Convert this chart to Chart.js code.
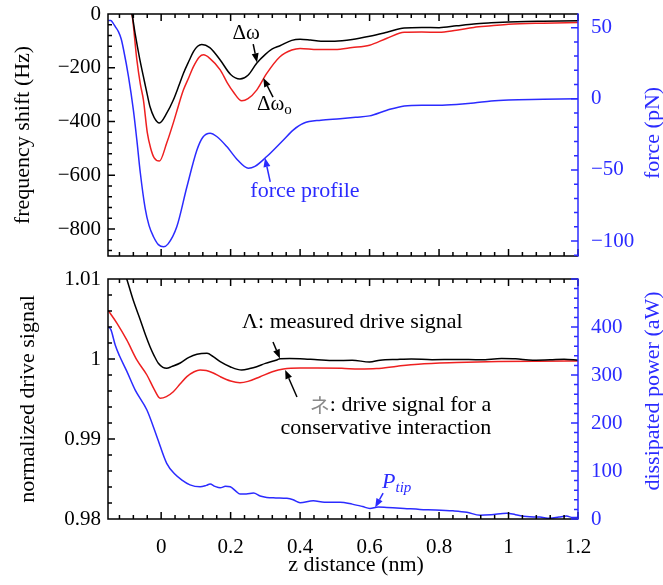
<!DOCTYPE html>
<html>
<head>
<meta charset="utf-8">
<script src="https://cdn.jsdelivr.net/npm/chart.js@4.4.0/dist/chart.umd.min.js"></script>
<style>
  html, body { margin: 0; padding: 0; background: #fff; }
  #wrap { position: relative; width: 663px; height: 585px; }
  canvas { position: absolute; left: 0; }
  #top { top: 0; }
  #bottom { top: 262px; }
</style>
</head>
<body>
<div id="wrap">
  <canvas id="top" width="663" height="262"></canvas>
  <canvas id="bottom" width="663" height="323"></canvas>
</div>
<script>
// ---- top panel: frequency shift (Hz) and force (pN) vs z (nm)
const zShiftMeasured = [-0.095, -0.084, -0.075, -0.062, -0.051, -0.04, -0.032, -0.02, -0.005, 0.016, 0.035, 0.05, 0.064, 0.08, 0.093, 0.105, 0.117, 0.14, 0.17, 0.2, 0.227, 0.25, 0.275, 0.3, 0.32, 0.342, 0.376, 0.4, 0.43, 0.46, 0.5, 0.55, 0.6, 0.65, 0.7, 0.75, 0.8, 0.85, 0.9, 0.95, 1.0, 1.05, 1.1, 1.15, 1.2];
const shiftMeasured = [40, 0, -72, -165, -233, -300, -345, -385, -405, -369, -320, -270, -221, -175, -140, -120, -113, -125, -171, -225, -242, -228, -183, -150, -130, -118, -98, -94, -97, -101, -101, -95, -83, -68, -52, -50, -51, -44, -37, -33, -30, -28, -27, -26, -25];

const zShiftCons = [-0.095, -0.084, -0.07, -0.06, -0.051, -0.04, -0.03, -0.02, -0.005, 0.016, 0.035, 0.05, 0.064, 0.08, 0.093, 0.11, 0.122, 0.14, 0.17, 0.19, 0.208, 0.232, 0.25, 0.275, 0.304, 0.342, 0.376, 0.4, 0.45, 0.5, 0.55, 0.6, 0.65, 0.7, 0.75, 0.8, 0.85, 0.9, 0.95, 1.0, 1.1, 1.2];
const shiftCons = [45, 0, -170, -260, -320, -440, -500, -535, -547, -480, -405, -340, -283, -235, -196, -160, -152, -165, -208, -255, -290, -323, -315, -283, -221, -159, -134, -128, -132, -132, -125, -116, -90, -68, -67, -68, -60, -50, -44, -38, -34, -32];

const zForce = [-0.152, -0.145, -0.138, -0.132, -0.123, -0.115, -0.108, -0.094, -0.08, -0.07, -0.06, -0.046, -0.035, -0.022, -0.008, 0.007, 0.02, 0.045, 0.074, 0.103, 0.12, 0.141, 0.16, 0.189, 0.22, 0.251, 0.27, 0.304, 0.352, 0.38, 0.41, 0.46, 0.515, 0.56, 0.6, 0.65, 0.7, 0.75, 0.8, 0.85, 0.9, 0.95, 1.0, 1.1, 1.2];
const forceProfile = [55, 55, 53, 50.7, 47.2, 42, 34.3, 15.6, -7.8, -28.9, -52, -77, -89, -97, -102.5, -104, -102, -90, -62, -36, -27, -24.2, -26.5, -33.6, -43, -48.8, -47.5, -40.6, -28.9, -22, -17.2, -15, -14, -13, -12, -8, -5, -4.5, -4.5, -4, -3, -1.5, -0.8, -0.4, 0];

// ---- bottom panel: normalized drive signal and dissipated power (aW) vs z (nm)
const zDriveMeasured = [-0.11, -0.099, -0.08, -0.06, -0.045, -0.032, -0.02, -0.008, 0.005, 0.016, 0.03, 0.055, 0.08, 0.103, 0.132, 0.15, 0.17, 0.2, 0.232, 0.255, 0.275, 0.3, 0.333, 0.342, 0.37, 0.4, 0.45, 0.5, 0.55, 0.6, 0.63, 0.68, 0.72, 0.78, 0.85, 0.92, 0.98, 1.02, 1.07, 1.12, 1.16, 1.2];
const driveMeasured = [1.0115, 1.01, 1.0073, 1.00488, 1.003, 1.00154, 1.0004, 0.99946, 0.99895, 0.99884, 0.99905, 0.9995, 1.0002, 1.00059, 1.00071, 1.0003, 0.99966, 0.999, 0.99862, 0.9988, 0.99904, 0.99945, 0.99988, 1.00004, 1.00005, 1.00004, 0.9999, 0.9998, 0.99985, 0.99962, 0.99985, 0.99995, 1.0, 0.99992, 0.99995, 0.9999, 1.00005, 1.00002, 0.99985, 0.9999, 0.99998, 0.99985];

const zDriveCons = [-0.153, -0.127, -0.099, -0.07, -0.041, -0.02, -0.003, 0.015, 0.035, 0.055, 0.074, 0.095, 0.112, 0.13, 0.15, 0.17, 0.2, 0.227, 0.25, 0.285, 0.32, 0.352, 0.4, 0.45, 0.52, 0.57, 0.62, 0.68, 0.74, 0.85, 0.97, 1.08, 1.2];
const driveCons = [1.0061, 1.00446, 1.00238, 0.99988, 0.998, 0.9962, 0.9951, 0.9953, 0.99591, 0.9969, 0.99779, 0.9984, 0.99862, 0.99855, 0.99825, 0.99779, 0.99725, 0.99704, 0.9972, 0.99779, 0.9984, 0.99875, 0.99888, 0.99888, 0.99884, 0.99874, 0.9988, 0.9991, 0.99935, 0.99955, 0.99968, 0.99973, 0.99975];

const zPower = [-0.152, -0.145, -0.132, -0.12, -0.099, -0.075, -0.041, -0.012, 0.016, 0.04, 0.06, 0.083, 0.112, 0.13, 0.141, 0.155, 0.17, 0.185, 0.199, 0.215, 0.227, 0.245, 0.266, 0.285, 0.304, 0.33, 0.362, 0.38, 0.4, 0.438, 0.47, 0.515, 0.55, 0.58, 0.601, 0.625, 0.65, 0.7, 0.745, 0.79, 0.84, 0.88, 0.918, 0.95, 0.995, 1.02, 1.052, 1.09, 1.119, 1.145, 1.167, 1.185, 1.2];
const powerTip = [400, 395, 362, 340, 308, 269, 227, 171, 116, 93, 81, 71, 67, 70, 73, 68, 65, 68, 67, 58, 52, 52, 54, 48, 45, 44, 43, 40, 34, 38, 35, 35, 31, 26, 22, 25, 24, 22, 20, 19, 17, 14, 8, 9, 12, 9, 5, 4, 1.5, 4, 6, 3, 3.5];

// ---- tick labels
const zTicks = [0, 0.2, 0.4, 0.6, 0.8, 1, 1.2];
const shiftTicks = [-800, -600, -400, -200, 0];
const forceTicks = [-100, -50, 0, 50];
const driveTicks = [0.98, 0.99, 1, 1.01];
const powerTicks = [0, 100, 200, 300, 400];

const BLUE = '#2b2bff';
const RED = '#ee2020';
const SERIF = '"Liberation Serif", "Times New Roman", serif';
Chart.defaults.font.family = SERIF;

const pts = (xs, ys) => xs.map((x, i) => ({ x: x, y: ys[i] }));
const fmt = v => String(+v.toFixed(4)).replace('-', '\u2212');
const setTicks = list => scale => { scale.ticks = list.map(v => ({ value: v })); };
const noPad = s => { s.paddingTop = 0; s.paddingBottom = 0; s.paddingLeft = 0; s.paddingRight = 0; };

function line(data, color, axis) {
    return {
        data: data,
        yAxisID: axis,
        borderColor: color,
        borderWidth: 1.5,
        pointRadius: 0,
        fill: false,
        cubicInterpolationMode: 'monotone'
    };
}

// frame with inward major/minor ticks on all four sides
const framePlugin = {
    id: 'frame',
    afterDatasetsDraw(chart, args, o) {
        const { ctx, chartArea: a } = chart;
        const sx = chart.scales.x, sy = chart.scales.y, sy2 = chart.scales.y2;
        const each = (scale, minor, major, fn) => {
            const start = Math.ceil(scale.min / minor - 1e-6);
            for (let i = start; i * minor <= scale.max + 1e-9; i++) {
                const v = i * minor;
                const isMajor = Math.abs(v / major - Math.round(v / major)) < 1e-6;
                fn(scale.getPixelForValue(v), isMajor ? 7 : 4);
            }
        };
        ctx.save();
        ctx.lineWidth = 1.5;
        ctx.strokeStyle = '#000';
        ctx.beginPath();
        each(sx, o.xMinor, o.xMajor, (p, len) => {
            ctx.moveTo(p, a.bottom); ctx.lineTo(p, a.bottom - len);
            ctx.moveTo(p, a.top); ctx.lineTo(p, a.top + len);
        });
        each(sy, o.yMinor, o.yMajor, (p, len) => {
            ctx.moveTo(a.left, p); ctx.lineTo(a.left + len, p);
        });
        ctx.moveTo(a.right, a.top); ctx.lineTo(a.left, a.top);
        ctx.lineTo(a.left, a.bottom); ctx.lineTo(a.right, a.bottom);
        ctx.stroke();
        ctx.strokeStyle = BLUE;
        ctx.beginPath();
        ctx.moveTo(a.right, a.top - 0.75); ctx.lineTo(a.right, a.bottom + 0.75);
        each(sy2, o.y2Minor, o.y2Major, (p, len) => {
            ctx.moveTo(a.right, p); ctx.lineTo(a.right - len, p);
        });
        ctx.stroke();
        ctx.restore();
    }
};

// annotation texts and arrows placed in data units
const notesPlugin = {
    id: 'notes',
    afterDraw(chart, args, o) {
        const { ctx, chartArea: a } = chart;
        const px = (axis, x, y) => [chart.scales.x.getPixelForValue(x), chart.scales[axis].getPixelForValue(y)];
        ctx.save();
        (o.arrows || []).forEach(ar => {
            const [x1, y1] = px(ar.axis, ar.from[0], ar.from[1]);
            const [x2, y2] = px(ar.axis, ar.to[0], ar.to[1]);
            const ang = Math.atan2(y2 - y1, x2 - x1);
            const L = 9, W = 3.5;
            const bx = x2 - L * Math.cos(ang), by = y2 - L * Math.sin(ang);
            ctx.strokeStyle = ar.color; ctx.fillStyle = ar.color; ctx.lineWidth = 1.5;
            ctx.beginPath(); ctx.moveTo(x1, y1); ctx.lineTo(bx, by); ctx.stroke();
            ctx.beginPath();
            ctx.moveTo(x2, y2);
            ctx.lineTo(bx + W * Math.sin(ang), by - W * Math.cos(ang));
            ctx.lineTo(bx - W * Math.sin(ang), by + W * Math.cos(ang));
            ctx.closePath(); ctx.fill();
        });
        (o.texts || []).forEach(t => {
            let [x, y] = px(t.axis, t.at[0], t.at[1]);
            ctx.textBaseline = 'middle';
            ctx.textAlign = 'left';
            const parts = t.parts;
            let total = 0;
            parts.forEach(p => { ctx.font = p.font; total += ctx.measureText(p.text).width; });
            if (t.align === 'right') x -= total;
            if (t.align === 'center') x -= total / 2;
            parts.forEach(p => {
                ctx.font = p.font;
                ctx.fillStyle = p.color;
                ctx.fillText(p.text, x, y + (p.dy || 0));
                x += ctx.measureText(p.text).width;
            });
        });
        ctx.font = '22px ' + SERIF;
        ctx.textAlign = 'center';
        ctx.textBaseline = 'middle';
        if (o.xTitle) {
            ctx.fillStyle = '#000';
            ctx.fillText(o.xTitle.text, chart.scales.x.getPixelForValue(o.xTitle.at), a.bottom + o.xTitle.dy);
        }
        if (o.rightTitle) {
            // right-hand title reads bottom to top, like the left one
            ctx.fillStyle = BLUE;
            ctx.translate(chart.width - o.rightTitle.dx, (a.top + a.bottom) / 2 + o.rightTitle.dy);
            ctx.rotate(-Math.PI / 2);
            ctx.fillText(o.rightTitle.text, 0, 0);
        }
        ctx.restore();
    }
};

const F22 = '22px ' + SERIF;
const F21 = '21px ' + SERIF;

function yAxis(pos, min, max, list, color, title, titlePad, width) {
    return {
        type: 'linear',
        position: pos,
        min: min,
        max: max,
        afterBuildTicks: setTicks(list),
        afterFit: s => { s.width = width; noPad(s); },
        grid: { display: false, drawTicks: false },
        border: { display: false },
        ticks: { color: color, font: { size: 21 }, padding: pos === 'left' ? 7 : 13, callback: fmt },
        title: { display: pos === 'left', text: title, color: color, font: { size: 22 }, padding: { top: titlePad, bottom: 0 } }
    };
}

new Chart(document.getElementById('top'), {
    type: 'line',
    data: {
        datasets: [
            line(pts(zShiftMeasured, shiftMeasured), '#000', 'y'),
            line(pts(zShiftCons, shiftCons), RED, 'y'),
            line(pts(zForce, forceProfile), BLUE, 'y2')
        ]
    },
    options: {
        responsive: false,
        animation: false,
        devicePixelRatio: 1,
        layout: { padding: { top: 14, bottom: 6, left: 0, right: 0 } },
        plugins: {
            legend: { display: false },
            tooltip: { enabled: false },
            frame: { xMinor: 0.04, xMajor: 0.2, yMinor: 40, yMajor: 200, y2Minor: 10, y2Major: 50 },
            notes: {
                texts: [
                    { axis: 'y', at: [0.245, -74], align: 'center', parts: [{ text: '\u0394\u03c9', font: F21, color: '#000' }] },
                    { axis: 'y', at: [0.276, -335], align: 'left', parts: [
                        { text: '\u0394\u03c9', font: F21, color: '#000' },
                        { text: 'o', font: '15px ' + SERIF, color: '#000', dy: 6 }
                    ] },
                    { axis: 'y2', at: [0.414, -64.7], align: 'center', parts: [{ text: 'force profile', font: F22, color: BLUE }] }
                ],
                arrows: [
                    { axis: 'y', from: [0.265, -112], to: [0.276, -180], color: '#000' },
                    { axis: 'y', from: [0.322, -309], to: [0.294, -238], color: '#000' },
                    { axis: 'y2', from: [0.314, -58.4], to: [0.299, -41.6], color: BLUE }
                ],
                rightTitle: { text: 'force (pN)', dx: 10, dy: -2 }
            }
        },
        scales: {
            x: { type: 'linear', display: false, min: -0.153, max: 1.2 },
            y: yAxis('left', -900, 0, shiftTicks, '#000', 'frequency shift (Hz)', 10, 108),
            y2: yAxis('right', -110.5, 59.6, forceTicks, BLUE, 'force (pN)', 0, 85)
        }
    },
    plugins: [framePlugin, notesPlugin]
});

new Chart(document.getElementById('bottom'), {
    type: 'line',
    data: {
        datasets: [
            line(pts(zDriveMeasured, driveMeasured), '#000', 'y'),
            line(pts(zDriveCons, driveCons), RED, 'y'),
            line(pts(zPower, powerTip), BLUE, 'y2')
        ]
    },
    options: {
        responsive: false,
        animation: false,
        devicePixelRatio: 1,
        layout: { padding: { top: 17, bottom: 0, left: 0, right: 0 } },
        plugins: {
            legend: { display: false },
            tooltip: { enabled: false },
            frame: { xMinor: 0.04, xMajor: 0.2, yMinor: 0.002, yMajor: 0.01, y2Minor: 20, y2Major: 100 },
            notes: {
                texts: [
                    { axis: 'y', at: [0.233, 1.004625], align: 'left', parts: [{ text: '\u039b: measured drive signal', font: F22, color: '#000' }] },
                    { axis: 'y', at: [0.95, 0.99425], align: 'right', parts: [
                        { text: '\u30cd', font: '20px "Noto Sans CJK JP", sans-serif', color: '#8a8a8a' },
                        { text: ': drive signal for a', font: F22, color: '#000' }
                    ] },
                    { axis: 'y', at: [0.95, 0.991375], align: 'right', parts: [{ text: 'conservative interaction', font: F22, color: '#000' }] },
                    { axis: 'y2', at: [0.636, 77], align: 'left', parts: [
                        { text: 'P', font: 'italic 22px ' + SERIF, color: BLUE },
                        { text: 'tip', font: 'italic 15px ' + SERIF, color: BLUE, dy: 6 }
                    ] }
                ],
                arrows: [
                    { axis: 'y', from: [0.322, 1.002125], to: [0.342, 1.00006], color: '#000' },
                    { axis: 'y', from: [0.391, 0.99525], to: [0.357, 0.99863], color: '#000' },
                    { axis: 'y2', from: [0.639, 54], to: [0.616, 24], color: BLUE }
                ],
                xTitle: { text: 'z distance (nm)', at: 0.561, dy: 46 },
                rightTitle: { text: 'dissipated power (aW)', dx: 10, dy: -8 }
            }
        },
        scales: {
            x: {
                type: 'linear',
                min: -0.153,
                max: 1.2,
                afterBuildTicks: setTicks(zTicks),
                afterFit: s => { s.height = 66; noPad(s); },
                grid: { display: false, drawTicks: false },
                border: { display: false },
                ticks: { color: '#000', font: { size: 21 }, padding: 16, maxRotation: 0, callback: fmt }
            },
            y: yAxis('left', 0.98, 1.01, driveTicks, '#000', 'normalized drive signal', 15, 108),
            y2: yAxis('right', 0, 500, powerTicks, BLUE, 'dissipated power (aW)', 0, 85)
        }
    },
    plugins: [framePlugin, notesPlugin]
});
</script>
</body>
</html>
